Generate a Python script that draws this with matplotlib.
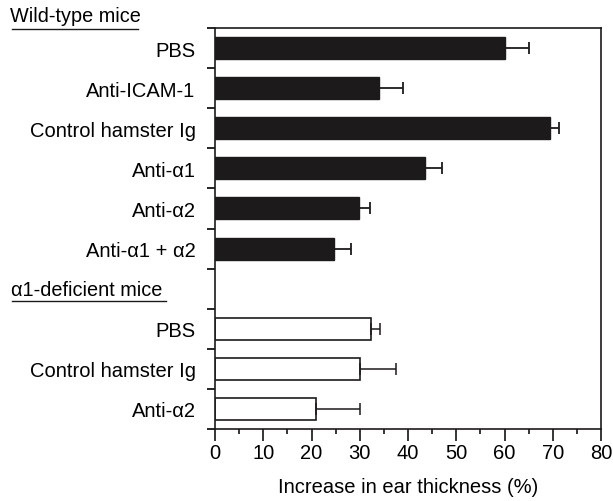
import matplotlib
matplotlib.use("Agg")
import matplotlib.pyplot as plt
from matplotlib.lines import Line2D
from matplotlib.ticker import FixedLocator, MultipleLocator

# Wild-type mice (black bars)
wt_labels = ["PBS", "Anti-ICAM-1", "Control hamster Ig", "Anti-\u03b11", "Anti-\u03b12", "Anti-\u03b11 + \u03b12"]
wt_values = [60.0, 34.0, 69.4, 43.5, 29.8, 24.7]
wt_err = [5.0, 5.0, 1.9, 3.5, 2.3, 3.5]

# alpha1-deficient mice (open bars)
ko_labels = ["PBS", "Control hamster Ig", "Anti-\u03b12"]
ko_values = [32.3, 30.0, 21.0]
ko_err = [2.0, 7.6, 9.0]

group_titles = ["Wild-type mice", "\u03b11-deficient mice"]
x_ticks = [0, 10, 20, 30, 40, 50, 60, 70, 80]

plt.rcParams["font.family"] = ["Liberation Sans", "DejaVu Sans"]

fig = plt.figure(figsize=(6.13, 5.02), dpi=100)
ax = fig.add_axes([215 / 613, 72 / 502, 386 / 613, 401 / 502])

wt_pos = [i + 0.5 for i in range(len(wt_values))]
ko_pos = [len(wt_values) + 1 + i + 0.5 for i in range(len(ko_values))]
n_slots = len(wt_values) + 1 + len(ko_values)

bar_h = 0.55
ax.barh(wt_pos, wt_values, height=bar_h, color="#1c1a1b", edgecolor="#1c1a1b", lw=1)
ax.barh(ko_pos, ko_values, height=bar_h, color="white", edgecolor="#1c1a1b", lw=1.2)
ax.errorbar(wt_values, wt_pos, xerr=[[0] * len(wt_err), wt_err], fmt="none",
            ecolor="#1c1a1b", elinewidth=1.3, capsize=4.5, capthick=1.3)
ax.errorbar(ko_values, ko_pos, xerr=[[0] * len(ko_err), ko_err], fmt="none",
            ecolor="#1c1a1b", elinewidth=1.1, capsize=4.5, capthick=1.1)

ax.set_xlim(0, 80)
ax.set_ylim(n_slots, 0)

# y ticks: marks at slot boundaries, labels at bar centres
ax.yaxis.set_major_locator(FixedLocator(list(range(n_slots + 1))))
ax.yaxis.set_minor_locator(FixedLocator(wt_pos + ko_pos))
ax.set_yticklabels([], minor=False)
ax.set_yticklabels(wt_labels + ko_labels, minor=True, fontsize=14.5)
ax.tick_params(axis="y", which="major", direction="out", length=6, width=1.2)
ax.tick_params(axis="y", which="minor", length=0, pad=14)

ax.set_xticks(x_ticks)
ax.xaxis.set_minor_locator(MultipleLocator(5))
ax.tick_params(axis="x", which="major", direction="out", length=8.5, width=1.1, labelsize=14.5, pad=1.5)
ax.tick_params(axis="x", which="minor", direction="out", length=3.5, width=1.1)
ax.set_xlabel("Increase in ear thickness (%)", fontsize=14.5, labelpad=11)

for s in ax.spines.values():
    s.set_linewidth(1.2)
    s.set_color("#1c1a1b")

# group headers with underline
fig.text(10 / 613, 1 - 17 / 502, group_titles[0], fontsize=14.3, va="center", ha="left")
fig.add_artist(Line2D([12 / 613, 138 / 613], [1 - 30 / 502, 1 - 30 / 502], color="#1c1a1b", lw=1))
fig.text(11 / 613, 1 - 291 / 502, group_titles[1], fontsize=14.3, va="center", ha="left")
fig.add_artist(Line2D([12 / 613, 166 / 613], [1 - 302 / 502, 1 - 302 / 502], color="#1c1a1b", lw=1))

fig.savefig("out.png", dpi=100)
